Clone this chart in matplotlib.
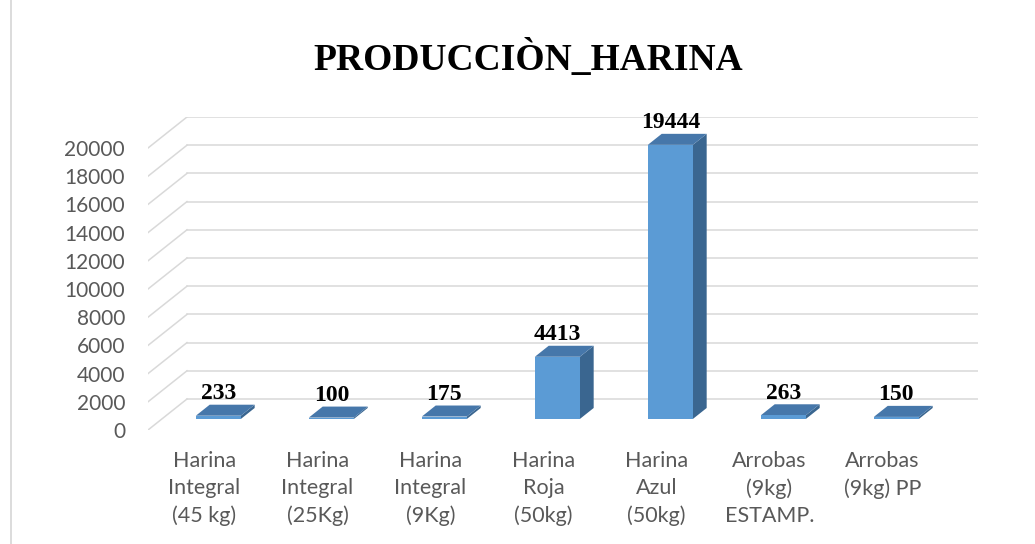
import matplotlib
matplotlib.use("Agg")
import matplotlib.pyplot as plt
from matplotlib.patches import Polygon, Rectangle

# data
categories = ["Harina\nIntegral\n(45 kg)", "Harina\nIntegral\n(25Kg)", "Harina\nIntegral\n(9Kg)",
              "Harina\nRoja\n(50kg)", "Harina\nAzul\n(50kg)", "Arrobas\n(9kg)\nESTAMP.",
              "Arrobas\n(9kg) PP"]
values = [233, 100, 175, 4413, 19444, 263, 150]
y_ticks = [0, 2000, 4000, 6000, 8000, 10000, 12000, 14000, 16000, 18000, 20000]
title = "PRODUCCIÒN_HARINA"

# oblique "3D" look: offset for one unit of depth (back wall -> front edge)
DX = -0.345     # in category units
DY = -2199.0    # in value units
BAR_FRONT = 0.645
BAR_BACK = 0.29
HALF_W = 0.199

FRONT_COL = "#5B9BD5"
TOP_COL = "#4677AA"
SIDE_COL = "#3A6690"
GRID_COL = "#D9D9D9"
TICK_COL = "#595959"


def proj(x, y, d):
    return (x + DX * d, y + DY * d)


W, H = 1035, 544
fig = plt.figure(figsize=(W / 100, H / 100), dpi=100)
fig.patch.set_facecolor("white")

# chart frame (only top and left visible in the crop)
fig.patches.append(Rectangle((11 / W, -0.2), 1.2, 1.2 + (1 - 14.5 / H), transform=fig.transFigure,
                             fill=False, edgecolor=GRID_COL, lw=1.3))

left, right, top, bottom = 148, 978, 117, 430
ax = fig.add_axes([left / W, 1 - bottom / H, (right - left) / W, (bottom - top) / H])
ax.set_xlim(-0.5 + DX, len(categories) - 0.5)
ax.set_ylim(DY, y_ticks[-1])
for s in ax.spines.values():
    s.set_visible(False)

# back wall gridlines + floor diagonals
for v in y_ticks:
    ax.plot([-0.5, len(categories) - 0.5], [v, v], color=GRID_COL, lw=1.1, zorder=1)
    x0, y0 = proj(-0.5, v, 1)
    ax.plot([x0, -0.5], [y0, v], color=GRID_COL, lw=1.1, zorder=1)

# bars
for i, v in enumerate(values):
    xl, xr = i - HALF_W, i + HALF_W
    fl = proj(xl, 0, BAR_FRONT)
    fr = proj(xr, 0, BAR_FRONT)
    ftl = proj(xl, v, BAR_FRONT)
    ftr = proj(xr, v, BAR_FRONT)
    btl = proj(xl, v, BAR_BACK)
    btr = proj(xr, v, BAR_BACK)
    br = proj(xr, 0, BAR_BACK)
    ax.add_patch(Polygon([fr, br, btr, ftr], closed=True, facecolor=SIDE_COL, edgecolor="none", zorder=3))
    ax.add_patch(Polygon([ftl, ftr, btr, btl], closed=True, facecolor=TOP_COL, edgecolor="none", zorder=3))
    ax.add_patch(Polygon([fl, fr, ftr, ftl], closed=True, facecolor=FRONT_COL, edgecolor="none", zorder=4))
    lx = proj(i, v, BAR_FRONT)[0]
    ly = proj(i, v, BAR_BACK)[1]
    ax.annotate(str(v), (lx, ly), xytext=(0, 0.5), textcoords="offset points",
                ha="center", va="bottom", fontsize=17, fontweight="bold",
                family="Liberation Serif", color="black", clip_on=False, zorder=5)

# axis labels sit on the front edge
ax.set_yticks([proj(0, v, 1)[1] for v in y_ticks])
ax.set_yticklabels([str(v) for v in y_ticks], fontsize=15, family="Lato", color=TICK_COL)
ax.set_xticks([proj(i, 0, 1)[0] for i in range(len(categories))])
ax.set_xticklabels(categories, fontsize=15.5, family="Lato", color=TICK_COL, linespacing=1.45)
ax.tick_params(axis="y", length=0, pad=16.5)
ax.tick_params(axis="x", length=0, pad=15)

fig.text(528 / W, 1 - 70 / H, title, ha="center", va="baseline", fontsize=27,
         fontweight="bold", family="Liberation Serif", color="black")

fig.savefig("out.png", dpi=100, facecolor="white")
